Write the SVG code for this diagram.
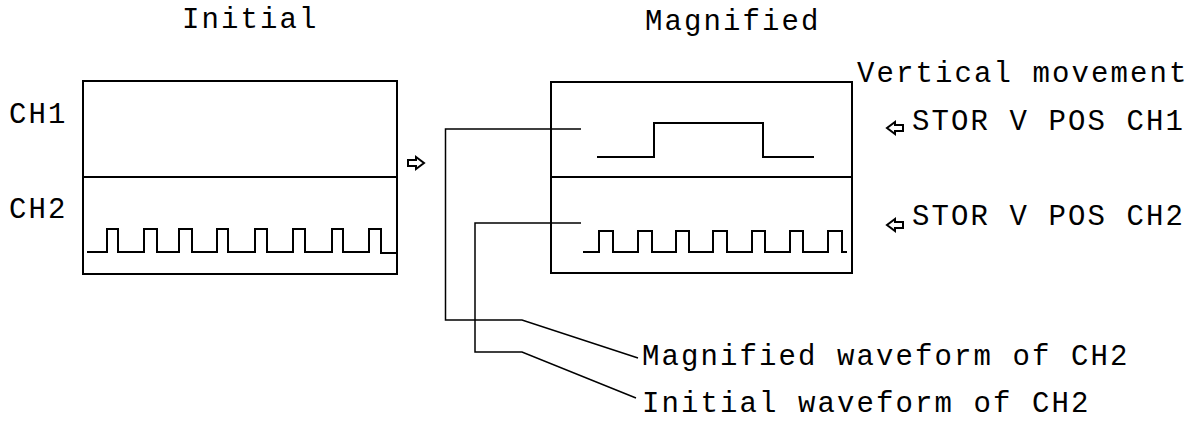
<svg xmlns="http://www.w3.org/2000/svg" width="1196" height="424" viewBox="0 0 1196 424">
<style>
text{font-family:"Liberation Mono","Courier New",monospace;font-size:29px;letter-spacing:2.1px;fill:#000}
.box{fill:none;stroke:#000;stroke-width:2}
.wave{fill:none;stroke:#000;stroke-width:2;stroke-linejoin:miter}
.lead{fill:none;stroke:#000;stroke-width:1.5}
.arr{fill:#fff;stroke:#000;stroke-width:2;stroke-linejoin:miter}
</style>
<rect width="1196" height="424" fill="#fff"/>

<g id="initial">
<text x="182" y="28">Initial</text>
<text x="9" y="123">CH1</text>
<text x="9" y="218">CH2</text>
<rect class="box" x="83" y="81" width="314" height="193"/>
<line class="box" x1="83" y1="177" x2="397" y2="177"/>
<path class="wave" d="M87 252H107V229H118V252H144V229H157V252H179V229H192V252H217V229H228V252H255V229H267V252H293V229H305V252H332V229H343V252H369V229H381V253H396"/>
</g>

<g id="transition">
<polygon class="arr" points="408,160 416,160 416,157 424,163 416,169 416,166 408,166"/>
</g>

<g id="magnified">
<text x="645" y="30">Magnified</text>
<rect class="box" x="551" y="82" width="301" height="191"/>
<line class="box" x1="551" y1="177" x2="852" y2="177"/>
<path class="wave" d="M597 157H654V123H763V157H814"/>
<path class="wave" d="M583 252H599V231H613V252H638V231H652V252H676V231H689V252H713V231H727V252H752V231H765V252H790V231H803V252H828V231H842V252H847"/>
</g>

<g id="vertical-movement">
<text x="857" y="82">Vertical movement</text>
<polygon class="arr" points="903,125 895,125 895,122 887,128 895,134 895,131 903,131"/>
<text x="912" y="130">STOR V POS CH1</text>
<polygon class="arr" points="903,222 895,222 895,219 887,225 895,231 895,228 903,228"/>
<text x="912" y="225">STOR V POS CH2</text>
</g>

<g id="captions">
<text x="642" y="365">Magnified waveform of CH2</text>
<text x="642" y="412">Initial waveform of CH2</text>
</g>

<g id="connectors">
<polyline class="lead" points="581,129 445.5,129 445.5,320 522,320 638,358"/>
<polyline class="lead" points="581,223 475,223 475,352 522,352 636,398"/>
</g>
</svg>
